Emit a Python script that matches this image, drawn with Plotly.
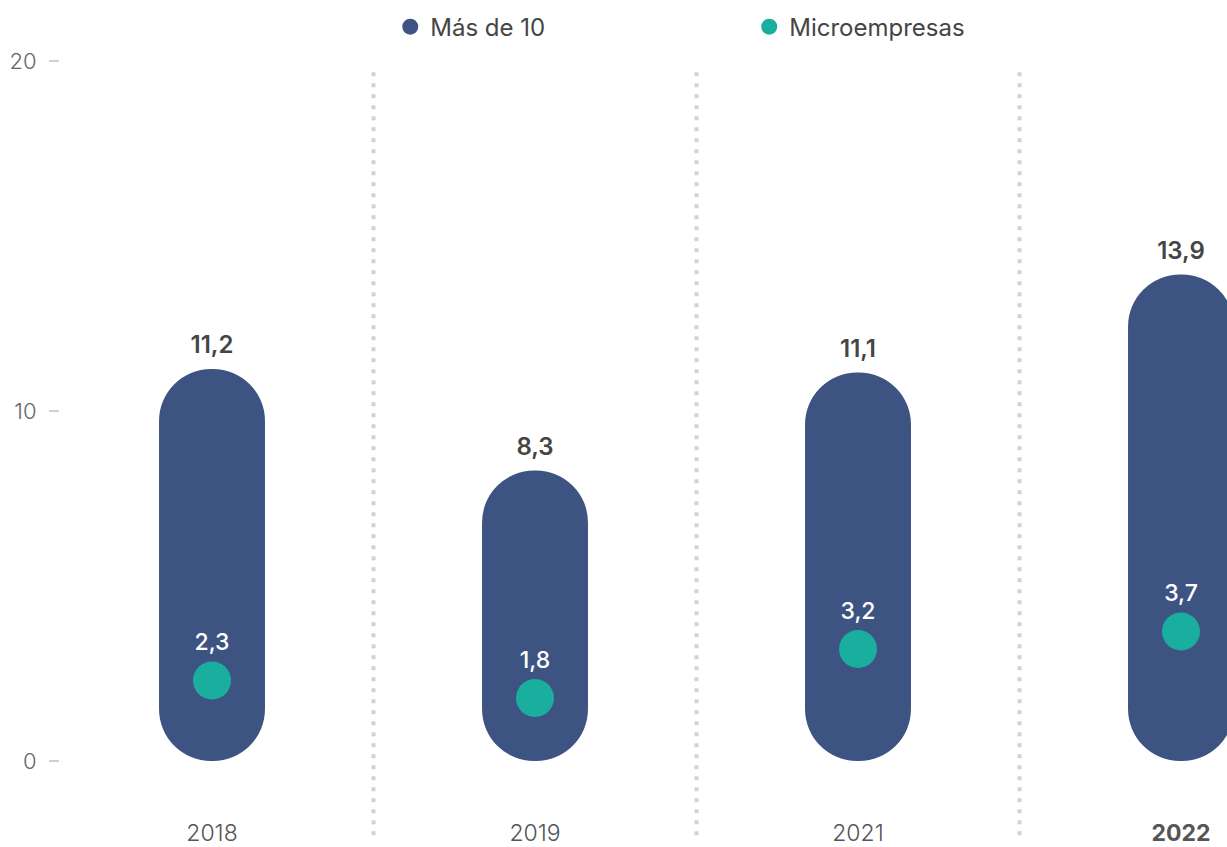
import plotly.graph_objects as go

# ---- data ----
years = ["2018", "2019", "2021", "2022"]
year_labels = ["2018", "2019", "2021", "<b>2022</b>"]
mas_de_10 = [11.2, 8.3, 11.1, 13.9]
microempresas = [2.3, 1.8, 3.2, 3.7]
y_ticks = [0, 10, 20]

BLUE = "#3D5483"
GREEN = "#19AE9E"
TEXT = "#454545"
FONT = "Inter"

idx = list(range(len(years)))
fmt = lambda v: f"{v:.1f}".replace(".", ",")
BW = 0.328

fig = go.Figure()

# pill-shaped bars (explicit base -> both ends rounded)
fig.add_trace(go.Bar(x=idx, y=mas_de_10, base=[0] * len(idx), width=BW,
                     marker=dict(color=BLUE, cornerradius="50%", line=dict(width=0)),
                     showlegend=False, hoverinfo="skip"))

# value labels above bars
fig.add_trace(go.Scatter(x=idx, y=mas_de_10, mode="markers+text", text=[fmt(v) for v in mas_de_10],
                         textposition="top center", marker=dict(size=14, opacity=0),
                         textfont=dict(family=FONT, size=24, color=TEXT, weight=600),
                         showlegend=False, hoverinfo="skip", cliponaxis=False))

# micro dots
fig.add_trace(go.Scatter(x=idx, y=microempresas, mode="markers+text", text=[fmt(v) for v in microempresas],
                         textposition="top center", marker=dict(size=38, color=GREEN, line=dict(width=0)),
                         textfont=dict(family=FONT, size=23, color="white", weight=500),
                         showlegend=False, hoverinfo="skip", cliponaxis=False))

# legend entries
fig.add_trace(go.Scatter(x=[None], y=[None], mode="markers", name="Más de 10",
                         marker=dict(size=16, color=BLUE, symbol="circle")))
fig.add_trace(go.Scatter(x=[None], y=[None], mode="markers", name="Microempresas",
                         marker=dict(size=16, color=GREEN, symbol="circle")))

# dotted separators
for i in idx[:-1]:
    fig.add_shape(type="line", xref="x", yref="paper", x0=i + 0.5, x1=i + 0.5, y0=-0.106, y1=0.987,
                  line=dict(color="#D2D2D2", width=4, dash="4px,7px"), layer="below")

fig.update_layout(
    width=1227, height=847,
    margin=dict(l=60, r=0, t=61, b=86, autoexpand=False),
    paper_bgcolor="white", plot_bgcolor="white",
    barmode="overlay",
    font=dict(family=FONT, color=TEXT),
    legend=dict(orientation="h", x=0.283, xanchor="left", yref="container", y=0.968, yanchor="middle",
                font=dict(family=FONT, size=24, color=TEXT), entrywidth=314, itemsizing="trace"),
    xaxis=dict(range=[-0.4706, 3.1424], tickvals=idx, ticktext=year_labels, showgrid=False, zeroline=False,
               showline=False, ticks="", ticklabelstandoff=56, automargin=False,
               tickfont=dict(family=FONT, size=23, color="#555", weight=300)),
    yaxis=dict(range=[0, 20], tickvals=y_ticks, ticks="outside", ticklen=10, tickwidth=2, tickcolor="#D0D0D0",
               showgrid=False, zeroline=False, showline=False, automargin=False,
               tickfont=dict(family=FONT, size=22, color="#666", weight=300),
               ticklabelstandoff=8),
)

fig.write_html("out.html", config={"displayModeBar": False},
               post_script="document.body.style.margin='0';document.body.style.overflow='hidden';")
